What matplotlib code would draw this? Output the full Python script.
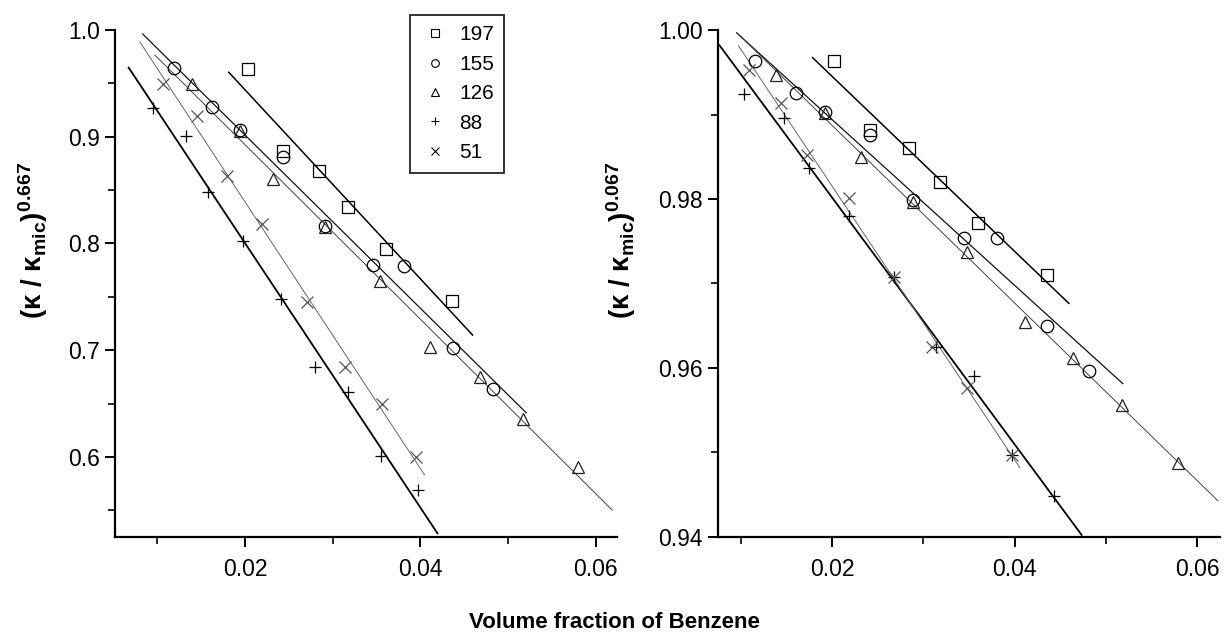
import numpy as np
import matplotlib
matplotlib.use("Agg")
import matplotlib.pyplot as plt
from matplotlib.lines import Line2D
from matplotlib.ticker import MultipleLocator, FormatStrFormatter

plt.rcParams['font.family'] = ['Liberation Sans', 'DejaVu Sans']
plt.rcParams['mathtext.fontset'] = 'custom'
plt.rcParams['mathtext.rm'] = 'Liberation Sans'
plt.rcParams['mathtext.bf'] = 'Liberation Sans:bold'
plt.rcParams['mathtext.it'] = 'Liberation Sans:italic'

series = ['197', '155', '126', '88', '51']

# ---- exponent 0.667 (left panel) ----
phi_197_a = [0.0203, 0.0243, 0.0285, 0.0317, 0.0361, 0.0436]
k_197_a = [0.963, 0.887, 0.868, 0.834, 0.795, 0.746]
phi_155_a = [0.0119, 0.0162, 0.0194, 0.0243, 0.0291, 0.0346, 0.0381, 0.0437, 0.0483]
k_155_a = [0.964, 0.928, 0.906, 0.881, 0.816, 0.780, 0.779, 0.702, 0.664]
phi_126_a = [0.0140, 0.0194, 0.0232, 0.0291, 0.0354, 0.0411, 0.0468, 0.0517, 0.0580]
k_126_a = [0.949, 0.905, 0.860, 0.815, 0.765, 0.703, 0.675, 0.636, 0.591]
phi_88_a = [0.0095, 0.0133, 0.0158, 0.0198, 0.0241, 0.0280, 0.0317, 0.0355, 0.0397]
k_88_a = [0.927, 0.901, 0.848, 0.802, 0.748, 0.684, 0.661, 0.601, 0.569]
phi_51_a = [0.0107, 0.0146, 0.0180, 0.0219, 0.0271, 0.0314, 0.0356, 0.0395]
k_51_a = [0.949, 0.919, 0.863, 0.818, 0.745, 0.684, 0.650, 0.600]
# span of each least-squares line
fit_span_a = {'197': (0.0181, 0.0460), '155': (0.0083, 0.0521),
              '126': (0.0097, 0.0619), '88': (0.0067, 0.0420),
              '51': (0.0080, 0.0405)}

# ---- exponent 0.067 (right panel) ----
phi_197_b = [0.0202, 0.0241, 0.0284, 0.0318, 0.0360, 0.0436]
k_197_b = [0.9963, 0.9882, 0.9860, 0.9820, 0.9772, 0.9710]
phi_155_b = [0.0115, 0.0160, 0.0192, 0.0242, 0.0289, 0.0345, 0.0381, 0.0436, 0.0482]
k_155_b = [0.9963, 0.9925, 0.9903, 0.9876, 0.9799, 0.9754, 0.9754, 0.9650, 0.9596]
phi_126_b = [0.0139, 0.0192, 0.0232, 0.0289, 0.0348, 0.0411, 0.0464, 0.0518, 0.0579]
k_126_b = [0.9947, 0.9902, 0.9850, 0.9796, 0.9737, 0.9654, 0.9612, 0.9556, 0.9488]
phi_88_b = [0.0104, 0.0147, 0.0175, 0.0218, 0.0268, 0.0314, 0.0356, 0.0397, 0.0443]
k_88_b = [0.9924, 0.9896, 0.9837, 0.9780, 0.9708, 0.9625, 0.9591, 0.9497, 0.9449]
phi_51_b = [0.0109, 0.0144, 0.0173, 0.0219, 0.0268, 0.0310, 0.0348, 0.0397]
k_51_b = [0.9953, 0.9914, 0.9852, 0.9801, 0.9708, 0.9625, 0.9576, 0.9497]
fit_span_b = {'197': (0.0178, 0.0460), '155': (0.0095, 0.0519),
              '126': (0.0095, 0.0623), '88': (0.0076, 0.0474),
              '51': (0.0097, 0.0406)}

x_ticks = [0.02, 0.04, 0.06]
y_ticks_a = [0.6, 0.7, 0.8, 0.9, 1.0]
y_ticks_b = [0.94, 0.96, 0.98, 1.00]

ylabel_a = r'$\mathbf{(κ\ /\ κ_{mic})^{0.667}}$'
ylabel_b = r'$\mathbf{(κ\ /\ κ_{mic})^{0.067}}$'
xlabel = 'Volume fraction of Benzene'

# marker / line styling per surfactant series
marker = {'197': 's', '155': 'o', '126': '^', '88': '+', '51': 'x'}
msize = {'197': 8.5, '155': 9, '126': 9, '88': 9, '51': 8}
mcolor = {'197': 'black', '155': 'black', '126': '#222222', '88': 'black', '51': '#555555'}
lcolor = {'197': 'black', '155': '#111111', '126': '#444444', '88': 'black', '51': '#666666'}
lwidth = {'197': 1.1, '155': 0.9, '126': 0.7, '88': 1.3, '51': 0.7}

data_a = {'197': (phi_197_a, k_197_a), '155': (phi_155_a, k_155_a),
          '126': (phi_126_a, k_126_a), '88': (phi_88_a, k_88_a),
          '51': (phi_51_a, k_51_a)}
data_b = {'197': (phi_197_b, k_197_b), '155': (phi_155_b, k_155_b),
          '126': (phi_126_b, k_126_b), '88': (phi_88_b, k_88_b),
          '51': (phi_51_b, k_51_b)}

W, H = 1228, 643
fig = plt.figure(figsize=(W / 100, H / 100), dpi=100)
ax_a = fig.add_axes([115 / W, 1 - 537 / H, 502 / W, 507 / H])
ax_b = fig.add_axes([718 / W, 1 - 537 / H, 502 / W, 507 / H])


def draw(ax, data, spans):
    for s in series:
        x, y = np.asarray(data[s][0]), np.asarray(data[s][1])
        slope, icpt = np.polyfit(x, y, 1)
        xs = np.array(spans[s])
        ax.plot(xs, slope * xs + icpt, color=lcolor[s], lw=lwidth[s],
                solid_capstyle='butt', zorder=2)
    for s in series:
        x, y = data[s]
        ax.plot(x, y, linestyle='none', marker=marker[s], ms=msize[s],
                mfc='none', mec=mcolor[s], mew=0.9, zorder=3)


def style(ax, yticks, lims, minor_y, fmt):
    for side in ('top', 'right'):
        ax.spines[side].set_visible(False)
    for side in ('left', 'bottom'):
        ax.spines[side].set_linewidth(1.6)
    ax.set_xlim(*lims[0])
    ax.set_ylim(*lims[1])
    ax.set_xticks(x_ticks)
    ax.xaxis.set_minor_locator(MultipleLocator(0.01))
    ax.set_yticks(yticks)
    ax.yaxis.set_minor_locator(MultipleLocator(minor_y))
    ax.xaxis.set_major_formatter(FormatStrFormatter('%.2f'))
    ax.yaxis.set_major_formatter(FormatStrFormatter(fmt))
    ax.tick_params(which='major', direction='out', length=7, width=1.4,
                   labelsize=16.5, pad=4)
    ax.tick_params(which='minor', direction='out', length=5, width=1.2)
    ax.tick_params(axis='x', which='major', pad=8)


draw(ax_a, data_a, fit_span_a)
draw(ax_b, data_b, fit_span_b)
style(ax_a, y_ticks_a, ((0.0052, 0.0624), (0.525, 1.0)), 0.05, '%.1f')
style(ax_b, y_ticks_b, ((0.0075, 0.0625), (0.94, 1.0)), 0.01, '%.2f')

fig.text(33 / W, 1 - 240 / H, ylabel_a, rotation=90, ha='center', va='center', fontsize=20)
fig.text(621 / W, 1 - 240 / H, ylabel_b, rotation=90, ha='center', va='center', fontsize=20)
fig.text(614 / W, 1 - 622 / H, xlabel, ha='center', va='center', fontsize=16, fontweight='bold')

handles = [Line2D([], [], linestyle='none', marker=marker[s], ms=5.5,
                  mfc='none', mec='black', mew=0.8) for s in series]
leg = fig.legend(handles, series, loc='upper left',
                 bbox_to_anchor=(410 / W, 1 - 15 / H), fontsize=15,
                 frameon=True, fancybox=False, edgecolor='black',
                 borderpad=0.5, labelspacing=0.5, handlelength=1.4,
                 handletextpad=0.45, borderaxespad=0)
leg.get_frame().set_linewidth(1.4)

fig.savefig('out.png', dpi=100)
